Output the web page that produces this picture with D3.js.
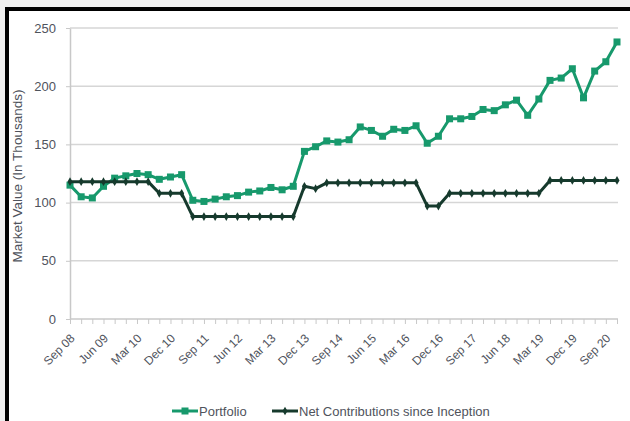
<!DOCTYPE html>
<html><head><meta charset="utf-8">
<script src="https://cdn.jsdelivr.net/npm/d3@7"></script>
<style>body{margin:0;background:#efefef;} svg{display:block;font-family:"Liberation Sans",Arial,sans-serif;}</style>
</head><body><svg id="c" width="630" height="421"></svg>
<script>
const quarters = ["Sep 08","Dec 08","Mar 09","Jun 09","Sep 09","Dec 09","Mar 10","Jun 10","Sep 10","Dec 10",
  "Mar 11","Jun 11","Sep 11","Dec 11","Mar 12","Jun 12","Sep 12","Dec 12","Mar 13","Jun 13",
  "Sep 13","Dec 13","Mar 14","Jun 14","Sep 14","Dec 14","Mar 15","Jun 15","Sep 15","Dec 15",
  "Mar 16","Jun 16","Sep 16","Dec 16","Mar 17","Jun 17","Sep 17","Dec 17","Mar 18","Jun 18",
  "Sep 18","Dec 18","Mar 19","Jun 19","Sep 19","Dec 19","Mar 20","Jun 20","Sep 20","Dec 20"];
const portfolio = [115,105,104,114,121,123,125,124,120,122,124,
  102,101,103,105,106,109,110,113,111,114,
  144,148,153,152,154,165,162,157,163,162,
  166,151,157,172,172,174,180,179,184,188,
  175,189,205,207,215,190,213,221,238];
const netContributions = [118,118,118,118,118,118,118,118,108,108,108,
  88,88,88,88,88,88,88,88,88,88,
  114,112,117,117,117,117,117,117,117,117,
  117,97,97,108,108,108,108,108,108,108,
  108,108,119,119,119,119,119,119,119];
const yTicks = [0,50,100,150,200,250];
const seriesNames = ["Portfolio","Net Contributions since Inception"];
const labelStep = 3;

const green = "#17996c", dark = "#163a2d", textCol = "#4f535c";
const svg = d3.select("#c");
svg.append("rect").attr("width",630).attr("height",421).attr("fill","#efefef");
svg.append("rect").attr("x",7).attr("y",9).attr("width",640).attr("height",440)
  .attr("fill","#fff").attr("stroke","#000").attr("stroke-width",4);

const x = d3.scalePoint().domain(quarters).range([70,617]);
const y = d3.scaleLinear().domain([0,250]).range([319,28]);

svg.append("g").selectAll("line").data(yTicks.filter(d=>d>0)).join("line")
  .attr("x1",70).attr("x2",618).attr("y1",d=>y(d)).attr("y2",d=>y(d))
  .attr("stroke","#d6d6d6").attr("stroke-width",1.5);

const yAxis = svg.append("g").attr("transform","translate(70,0)")
  .call(d3.axisLeft(y).tickValues(yTicks).tickSize(4).tickSizeOuter(0).tickPadding(10));
yAxis.select(".domain").attr("stroke","#c8c8c8").attr("stroke-width",1.5);
yAxis.selectAll(".tick line").attr("stroke","#c8c8c8");
yAxis.selectAll("text").attr("fill",textCol).attr("font-size",13);

const xAxis = svg.append("g").attr("transform","translate(0,319)")
  .call(d3.axisBottom(x).tickSize(5).tickSizeOuter(0).tickFormat((d,i)=> i%labelStep===0 ? d : ""));
xAxis.select(".domain").attr("stroke","#c8c8c8").attr("stroke-width",1.5).attr("d","M70,0H618");
xAxis.selectAll(".tick line").attr("stroke","#c8c8c8");
xAxis.selectAll("text").attr("fill",textCol).attr("font-size",12)
  .attr("x",0).attr("y",0).attr("dy",0).attr("text-anchor","end")
  .attr("transform","translate(5,20) rotate(-45)");

svg.append("text").attr("transform","translate(22,176) rotate(-90)")
  .attr("text-anchor","middle").attr("font-size",13.5).attr("fill",textCol)
  .text("Market Value (In Thousands)");

const line = d3.line().x((d,i)=>x(quarters[i])).y(d=>y(d));
svg.append("path").datum(portfolio).attr("d",line).attr("fill","none")
  .attr("stroke",green).attr("stroke-width",3).attr("stroke-linejoin","round");
svg.append("g").selectAll("rect").data(portfolio).join("rect")
  .attr("x",(d,i)=>x(quarters[i])-3.5).attr("y",d=>y(d)-3.5).attr("width",7).attr("height",7).attr("fill",green);

svg.append("path").datum(netContributions).attr("d",line).attr("fill","none")
  .attr("stroke",dark).attr("stroke-width",3).attr("stroke-linejoin","round");
const diamond = d3.symbol().type(d3.symbolDiamond).size(22);
svg.append("g").selectAll("path").data(netContributions).join("path")
  .attr("d",diamond).attr("transform",(d,i)=>`translate(${x(quarters[i])},${y(d)})`).attr("fill",dark);

// legend
const leg = [{name:seriesNames[0],col:green,x0:172,sym:"sq"},{name:seriesNames[1],col:dark,x0:272,sym:"di"}];
leg.forEach(l=>{
  const g = svg.append("g");
  g.append("line").attr("x1",l.x0).attr("x2",l.x0+26).attr("y1",411).attr("y2",411).attr("stroke",l.col).attr("stroke-width",3);
  if(l.sym==="sq") g.append("rect").attr("x",l.x0+9.5).attr("y",407.5).attr("width",7).attr("height",7).attr("fill",l.col);
  else g.append("path").attr("d",diamond).attr("transform",`translate(${l.x0+13},411)`).attr("fill",l.col);
  g.append("text").attr("x",l.x0+27).attr("y",415.5).attr("font-size",13).attr("fill",textCol).text(l.name);
});
</script></body></html>
